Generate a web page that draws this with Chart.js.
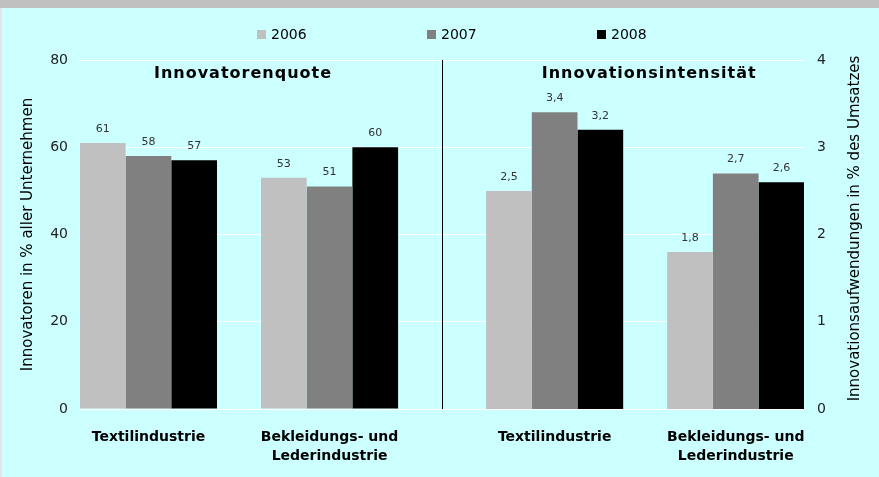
<!DOCTYPE html>
<html lang="de">
<head>
<meta charset="UTF-8">
<title>Innovatorenquote und Innovationsintensität</title>
<script src="https://cdn.jsdelivr.net/npm/chart.js"></script>
<style>
  body { margin: 0; }
  #wrap { position: relative; width: 879px; height: 477px; background: #CCFFFF; overflow: hidden; }
  #band { position: absolute; left: 0; top: 0; width: 879px; height: 8px; background: #C0C0C0; }
  #edge { position: absolute; left: 0; top: 8px; width: 2px; height: 469px; background: #E4E4E4; }
  #chart { position: absolute; left: 0; top: 0; }
</style>
</head>
<body>
<div id="wrap">
  <div id="band"></div>
  <div id="edge"></div>
  <canvas id="chart" width="879" height="477"></canvas>
</div>
<script>
// categories (two panels, two sectors each)
const categories = [
  ['Textilindustrie'],
  ['Bekleidungs- und', 'Lederindustrie'],
  ['Textilindustrie'],
  ['Bekleidungs- und', 'Lederindustrie']
];
const years = ['2006', '2007', '2008'];
const panelTitles = ['Innovatorenquote', 'Innovationsintensität'];
const leftAxisTitle = 'Innovatoren in % aller Unternehmen';
const rightAxisTitle = 'Innovationsaufwendungen in % des Umsatzes';

// Innovatorenquote (%)
const quote2006 = [61, 53];
const quote2007 = [58, 51];
const quote2008 = [57, 60];
// Innovationsintensität (% des Umsatzes)
const intensity2006 = [2.5, 1.8];
const intensity2007 = [3.4, 2.7];
const intensity2008 = [3.2, 2.6];

const leftTicks = [0, 20, 40, 60, 80];
const rightTicks = [0, 1, 2, 3, 4];

const colors = ['#C0C0C0', '#808080', '#000000'];
const font = 'DejaVu Sans';

// place of each category on the (hidden) x axis, wider gap between the panels
const slots = [0, 1, 2.243, 3.243];

const quotes = [quote2006, quote2007, quote2008];
const intensities = [intensity2006, intensity2007, intensity2008];

const datasets = [];
years.forEach((y, i) => {
  datasets.push({ label: y, data: [...quotes[i], null, null], backgroundColor: colors[i], yAxisID: 'y' });
});
years.forEach((y, i) => {
  datasets.push({ label: y, data: [null, null, ...intensities[i]], backgroundColor: colors[i], yAxisID: 'y2' });
});

const extras = {
  id: 'extras',
  beforeDatasetsDraw(chart) {
    const { ctx, chartArea, scales: { x } } = chart;
    const sx = Math.round((x.getPixelForValue(slots[1]) + x.getPixelForValue(slots[2])) / 2) + 0.5;
    ctx.save();
    ctx.strokeStyle = '#000';
    ctx.lineWidth = 1;
    ctx.beginPath();
    ctx.moveTo(sx, chartArea.top);
    ctx.lineTo(sx, chartArea.bottom);
    ctx.stroke();
    ctx.restore();
  },
  afterDraw(chart) {
    const { ctx, chartArea, scales: { x } } = chart;
    ctx.save();

    // value labels
    ctx.font = '11px "' + font + '"';
    ctx.fillStyle = '#333';
    ctx.textAlign = 'center';
    ctx.textBaseline = 'middle';
    chart.data.datasets.forEach((ds, i) => {
      chart.getDatasetMeta(i).data.forEach((bar, j) => {
        const v = ds.data[j];
        if (v == null) return;
        const txt = ds.yAxisID === 'y2' ? v.toFixed(1).replace('.', ',') : String(v);
        ctx.fillText(txt, bar.x, bar.y - 14);
      });
    });

    // panel titles
    ctx.font = 'bold 16px "' + font + '"';
    ctx.fillStyle = '#000';
    ctx.letterSpacing = '1px';
    panelTitles.forEach((t, p) => {
      const cx = (x.getPixelForValue(slots[2 * p]) + x.getPixelForValue(slots[2 * p + 1])) / 2;
      ctx.fillText(t, cx + 4, 74);
    });
    ctx.letterSpacing = '0px';

    // legend
    ctx.font = '14px "' + font + '"';
    ctx.textAlign = 'left';
    years.forEach((y, i) => {
      const bx = 257 + i * 170;
      ctx.fillStyle = colors[i];
      ctx.fillRect(bx, 30, 9, 9);
      ctx.fillStyle = '#000';
      ctx.fillText(y, bx + 14, 35);
    });

    // right axis title (reads bottom to top)
    ctx.font = '15px "' + font + '"';
    ctx.textAlign = 'center';
    ctx.translate(855, (chartArea.top + chartArea.bottom) / 2 - 6);
    ctx.rotate(-Math.PI / 2);
    ctx.fillText(rightAxisTitle, 0, 0);
    ctx.restore();
  }
};

new Chart(document.getElementById('chart'), {
  type: 'bar',
  data: { labels: slots, datasets: datasets },
  plugins: [extras],
  options: {
    responsive: false,
    animation: false,
    layout: { padding: { top: 60, left: 0, right: 0, bottom: 0 } },
    datasets: { bar: { skipNull: true, categoryPercentage: 0.757, barPercentage: 1 } },
    plugins: { legend: { display: false }, tooltip: { enabled: false } },
    scales: {
      x: {
        type: 'linear',
        offset: false,
        bounds: 'data',
        min: -0.378,
        max: 3.62,
        grid: { display: false },
        border: { display: false },
        afterBuildTicks: s => { s.ticks = slots.map(v => ({ value: v })); },
        afterFit: s => { s.height = 68; },
        ticks: {
          autoSkip: false,
          maxRotation: 0,
          padding: 11,
          color: '#000',
          font: { family: font, size: 14, weight: 'bold', lineHeight: 1.36 },
          callback: (v, i) => categories[i]
        }
      },
      y: {
        position: 'left',
        min: leftTicks[0],
        max: leftTicks[leftTicks.length - 1],
        afterBuildTicks: s => { s.ticks = leftTicks.map(v => ({ value: v })); },
        afterFit: s => { s.width = 80; },
        grid: { color: '#FFFFFF', drawTicks: false },
        border: { display: false },
        ticks: { padding: 12, color: '#222', font: { family: font, size: 14 } },
        title: {
          display: true,
          text: leftAxisTitle,
          color: '#000',
          padding: { top: 19 },
          font: { family: font, size: 15 }
        }
      },
      y2: {
        position: 'right',
        min: rightTicks[0],
        max: rightTicks[rightTicks.length - 1],
        afterBuildTicks: s => { s.ticks = rightTicks.map(v => ({ value: v })); },
        afterFit: s => { s.width = 75; },
        grid: { display: false, drawTicks: false },
        border: { display: false },
        ticks: { padding: 13, color: '#222', font: { family: font, size: 14 } }
      }
    }
  }
});
</script>
</body>
</html>
